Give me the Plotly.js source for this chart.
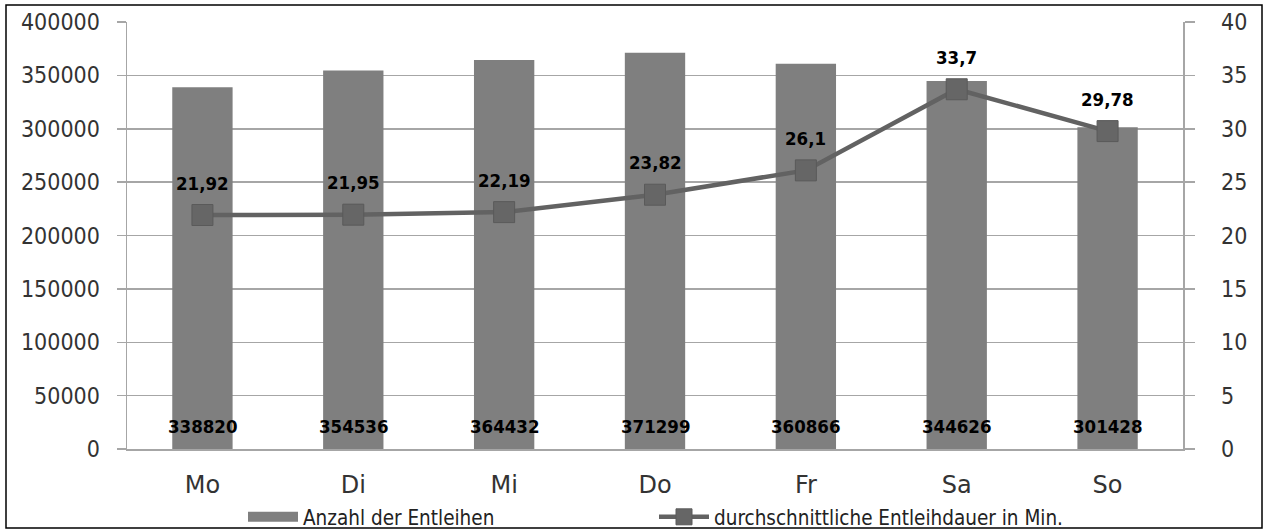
<!DOCTYPE html>
<html><head><meta charset="utf-8">
<script src="https://cdn.plot.ly/plotly-3.0.1.min.js"></script>
<style>html,body{margin:0;padding:0;background:#fff}#chart{width:1264px;height:529px}</style>
</head><body><div id="chart"></div>
<script>
const days = ["Mo","Di","Mi","Do","Fr","Sa","So"];
const anzahl = [338820, 354536, 364432, 371299, 360866, 344626, 301428];
const dauer = [21.92, 21.95, 22.19, 23.82, 26.1, 33.7, 29.78];
const dauerLabels = ["21,92","21,95","22,19","23,82","26,1","33,7","29,78"];

const W = 1264, H = 529, ml = 127, mr = 81, mt = 22, mb = 80;
const pw = W - ml - mr, ph = H - mt - mb;
const labelFont = {family:'"DejaVu Sans Condensed", "DejaVu Sans", sans-serif', size:18.5, color:'#000', weight:'bold'};
const tickFont = {family:'"DejaVu Sans Condensed", "DejaVu Sans", sans-serif', size:23, color:'#333'};

const traces = [
  {type:'bar', x:days, y:anzahl, name:'Anzahl der Entleihen', width:0.4, showlegend:false, legendgroup:'a',
   marker:{color:'#7f7f7f'}, hoverinfo:'skip'},
  {type:'scatter', mode:'lines', x:[null], y:[null], name:'Anzahl der Entleihen', legendgroup:'a',
   line:{color:'#7f7f7f', width:10}, hoverinfo:'skip'},
  {type:'scatter', mode:'lines+markers', x:days, y:dauer, yaxis:'y2',
   name:'durchschnittliche Entleihdauer in Min.',
   line:{color:'#626262', width:4.5}, marker:{symbol:'square', size:21, color:'#666666', line:{color:'#5a5a5a', width:1}}, hoverinfo:'skip'}
];

const annotations = [];
days.forEach((d,i)=>{
  annotations.push({x:d, y:0, xref:'x', yref:'y', text:String(anzahl[i]), showarrow:false,
    yshift:23, font:labelFont});
  annotations.push({x:d, y:dauer[i], xref:'x', yref:'y2', text:dauerLabels[i], showarrow:false,
    yshift:32, font:labelFont});
});

const layout = {
  width:W, height:H, margin:{l:ml, r:mr, t:mt, b:mb, autoexpand:false}, paper_bgcolor:'#fff', plot_bgcolor:'#fff',
  showlegend:true,
  font:{family:'DejaVu Sans', size:19, color:'#333'},
  xaxis:{type:'category', showline:true, linecolor:'#a6a6a6', linewidth:1.5, ticks:'',
    tickfont:{family:'DejaVu Sans', size:24, color:'#333'}, ticklabelstandoff:14, automargin:false},
  yaxis:{range:[0,400000], dtick:50000, tickformat:'d', showgrid:true, gridcolor:'#a6a6a6', gridwidth:1.5,
    showline:true, linecolor:'#a6a6a6', linewidth:1.5, ticks:'outside', ticklen:9, tickcolor:'#a6a6a6', tickwidth:1.5,
    tickfont:tickFont, ticklabelstandoff:12, zeroline:false, automargin:false},
  yaxis2:{range:[0,40], dtick:5, overlaying:'y', side:'right', showgrid:false,
    showline:true, linecolor:'#a6a6a6', linewidth:1.5, ticks:'outside', ticklen:10, tickcolor:'#a6a6a6', tickwidth:1.5,
    tickfont:tickFont, ticklabelstandoff:22, zeroline:false, automargin:false},
  legend:{orientation:'h', x:(243-ml)/pw, xanchor:'left', y:-(517-mt-ph)/ph, yanchor:'middle', maxheight:200,
    font:{family:'"DejaVu Sans Condensed", "DejaVu Sans", sans-serif', size:20.5, color:'#222'}, itemwidth:50, entrywidth:346, traceorder:'normal', bgcolor:'rgba(0,0,0,0)', tracegroupgap:0},
  annotations:annotations,
  shapes:[{type:'rect', xref:'paper', yref:'paper', x0:(6-ml)/pw, x1:(1262-ml)/pw, y0:-(528-mt-ph)/ph, y1:1+(mt-5)/ph,
    line:{color:'#000', width:1.5}, fillcolor:'rgba(0,0,0,0)'}]
};

Plotly.newPlot('chart', traces, layout, {staticPlot:true, displayModeBar:false});
</script></body></html>
